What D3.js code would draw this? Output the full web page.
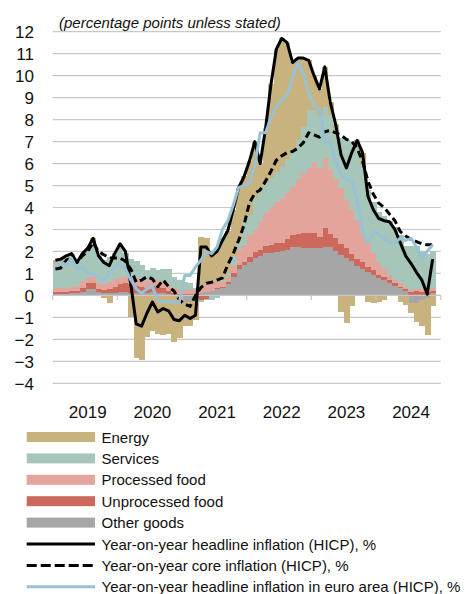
<!DOCTYPE html>
<html><head><meta charset="utf-8">
<script src="https://cdn.jsdelivr.net/npm/d3@7"></script>
<style>
body{margin:0;background:#fff}
svg{display:block;font-family:"Liberation Sans",Arial,Helvetica,sans-serif}
</style>
</head><body>
<svg id="chart" width="470" height="594"></svg>
<script>
// ---------- DATA (monthly, Jan 2019 – Nov 2024) ----------
const years = ["2019","2020","2021","2022","2023","2024"];
const yTicks = [-4,-3,-2,-1,0,1,2,3,4,5,6,7,8,9,10,11,12];

const otherGoods = [
  0.05,0.05,0.05,0.1,0.1,0.15,0.3,0.3,0.15,0.1,0.1,0.1,
  0.15,0.15,0.1,0.1,0.1,0.1,0.15,0.1,0.1,0.05,0.0,-0.1,
  -0.3,-0.3,-0.1,0.1,0.15,0.2,0.3,0.35,0.5,0.85,1.2,1.38,
  1.53,1.69,1.79,1.91,1.91,1.99,2.0,2.06,2.2,2.2,2.15,2.15,
  2.15,2.15,2.2,2.2,2.0,1.85,1.7,1.55,1.35,1.2,1.05,0.95,
  0.8,0.7,0.55,0.45,0.35,0.2,-0.35,-0.35,-0.2,-0.1,0.1];
const unprocessedFood = [
  0.1,0.1,0.1,0.1,0.1,0.2,0.25,0.25,0.15,0.15,0.2,0.3,
  0.35,0.4,0.4,0.35,0.3,0.25,0.3,0.3,0.25,0.15,0.1,0.05,
  0.05,0.05,0.0,-0.2,-0.15,0.0,0.05,0.05,0.1,0.15,0.18,0.15,
  0.2,0.3,0.26,0.34,0.38,0.38,0.4,0.49,0.55,0.6,0.7,0.7,
  0.7,0.5,0.85,0.6,0.6,0.5,0.45,0.35,0.3,0.3,0.25,0.2,
  0.15,0.15,0.15,0.1,0.05,0.1,0.15,0.2,0.15,0.15,0.1];
const processedFood = [
  0.2,0.2,0.2,0.2,0.25,0.3,0.3,0.3,0.25,0.25,0.3,0.35,
  0.3,0.3,0.3,0.3,0.3,0.3,0.3,0.3,0.25,0.25,0.25,0.2,
  0.2,0.2,0.25,0.35,0.35,0.3,0.25,0.2,0.2,0.35,0.7,0.75,
  1.02,0.99,1.3,1.48,1.75,1.89,2.05,2.09,2.25,2.5,2.7,2.95,
  3.2,3.15,3.2,2.9,2.7,2.55,2.2,2.0,1.8,1.35,1.1,0.8,
  0.55,0.35,0.25,0.15,0.15,0.1,0.1,0.1,0.15,0.15,0.15];
const services = [
  1.1,1.1,1.3,1.4,1.1,1.2,1.25,1.6,1.3,1.1,1.15,1.2,
  1.4,1.05,0.85,0.8,0.7,0.5,0.5,0.45,0.6,0.75,0.5,0.45,
  0.35,0.3,0.1,-0.1,-0.05,-0.2,-0.1,0.1,0.2,0.45,0.4,1.05,
  0.91,1.44,1.45,1.37,1.31,1.34,1.45,1.56,1.6,1.77,2.12,2.63,
  2.38,2.4,2.33,2.5,2.1,2.25,2.72,3.1,3.32,3.15,2.4,2.31,
  2.3,2.4,2.35,2.3,2.2,1.85,2.0,1.95,1.7,1.6,1.65];
const energy = [
  0.15,0.15,0.15,0.1,-0.05,0.05,0.0,0.15,-0.05,-0.1,-0.35,-0.05,
  0.1,0.05,-1.0,-2.85,-2.95,-1.9,-1.6,-1.75,-1.8,-1.75,-2.1,-1.85,
  -1.1,-1.1,-1.0,2.2,2.1,1.5,1.55,1.9,1.95,2.1,2.4,2.1,
  2.44,2.58,1.2,2.5,4.25,5.6,5.8,5.3,4.0,3.73,3.13,2.27,
  1.57,1.2,1.82,0.6,0.4,-0.75,-1.27,-0.5,0.28,0.5,-0.3,-0.36,
  -0.3,-0.2,0.1,0.1,-0.3,-0.44,-0.47,-0.85,-1.2,-1.7,-0.5];

const headline = [
  1.6,1.65,1.8,1.9,1.5,1.9,2.15,2.6,1.8,1.5,1.35,1.9,
  2.35,2.0,0.5,-1.3,-1.4,-0.8,-0.3,-0.75,-0.6,-0.7,-1.1,-1.15,
  -0.9,-1.05,-0.9,2.2,2.2,1.8,2.0,2.5,2.95,3.9,4.9,5.4,
  6.1,7.0,6.0,7.6,9.6,11.2,11.7,11.5,10.6,10.8,10.8,10.7,
  10.0,9.4,10.4,8.8,7.8,6.4,5.8,6.5,7.05,6.5,4.5,3.9,
  3.5,3.4,3.35,3.0,2.4,1.8,1.45,1.05,0.7,0.05,1.65];
const core = [
  1.2,1.25,1.6,1.7,1.5,1.8,2.0,2.4,2.0,1.85,1.7,1.7,
  1.7,1.55,1.2,0.6,0.7,0.85,0.75,0.4,0.7,0.4,0.2,-0.2,
  -0.4,-0.5,0.0,0.35,0.55,0.6,0.7,0.8,1.4,1.9,2.5,3.2,
  4.2,4.65,4.8,5.2,5.65,6.15,6.35,6.5,6.55,6.7,6.95,7.4,
  7.3,7.2,7.45,7.5,7.4,7.3,7.1,7.0,6.7,6.1,5.2,4.6,
  4.2,4.0,3.7,3.4,2.9,2.7,2.55,2.45,2.35,2.3,2.3];
const euroArea = [
  1.4,1.5,1.4,1.7,1.2,1.3,1.0,1.0,0.8,0.7,1.0,1.3,
  1.4,1.2,0.7,0.3,0.1,0.3,0.4,-0.2,-0.3,-0.3,-0.3,-0.3,
  0.9,0.9,1.3,1.6,2.0,1.9,2.2,3.0,3.4,4.1,4.9,5.0,
  5.1,5.9,7.4,7.4,8.1,8.6,8.9,9.1,9.9,10.6,10.1,9.2,
  8.6,8.5,6.9,7.0,6.1,5.5,5.3,5.2,4.3,2.9,2.4,2.9,
  2.8,2.6,2.4,2.4,2.6,2.5,2.6,2.2,1.7,2.0,2.3];

const barSeries = [
  {key:"otherGoods", label:"Other goods", color:"#a6a6a6", values: otherGoods},
  {key:"unprocessedFood", label:"Unprocessed food", color:"#cc685c", values: unprocessedFood},
  {key:"processedFood", label:"Processed food", color:"#e3a49c", values: processedFood},
  {key:"services", label:"Services", color:"#a7c6ba", values: services},
  {key:"energy", label:"Energy", color:"#c8b27d", values: energy}
];
const lineSeries = [
  {label:"Year-on-year headline inflation (HICP), %", color:"#000", values: headline, dash:null},
  {label:"Year-on-year core inflation (HICP), %", color:"#000", values: core, dash:"7,4"},
  {label:"Year-on-year headline inflation in euro area (HICP), %", color:"#99c1d4", values: euroArea, dash:null}
];

// ---------- LAYOUT ----------
const svg = d3.select("#chart");
const plotLeft = 52.7, plotRight = 440.7, plotTop = 31.7, plotBottom = 383.3;
const months = years.flatMap(yr => d3.range(1,13).map(m => yr + "-" + m));
const x = d3.scaleBand().domain(months).range([plotLeft, plotRight]).padding(0);
const y = d3.scaleLinear().domain([-4, 12]).range([plotBottom, plotTop]);
const bw = x.bandwidth();

// gridlines
svg.append("g").selectAll("line").data(yTicks).join("line")
  .attr("x1", plotLeft).attr("x2", plotRight)
  .attr("y1", d => y(d)).attr("y2", d => y(d))
  .attr("stroke", "#c8c8c8").attr("stroke-width", 1.2);

// stacked bars
const n = headline.length;
const table = d3.range(n).map(i => {
  const row = {month: months[i]};
  barSeries.forEach(s => row[s.key] = s.values[i]);
  return row;
});
const stack = d3.stack().keys(barSeries.map(s => s.key)).offset(d3.stackOffsetDiverging);
const stacked = stack(table);
svg.append("g").attr("shape-rendering", "crispEdges")
  .selectAll("g").data(stacked).join("g")
  .attr("fill", (d, i) => barSeries[i].color)
  .selectAll("rect").data(d => d).join("rect")
  .attr("x", d => x(d.data.month))
  .attr("width", bw + 0.6)
  .attr("y", d => y(Math.max(d[0], d[1])))
  .attr("height", d => Math.abs(y(d[0]) - y(d[1])));

// zero axis with year-boundary ticks
svg.append("line").attr("x1", plotLeft).attr("x2", plotRight)
  .attr("y1", y(0)).attr("y2", y(0)).attr("stroke", "#c8c8c8").attr("stroke-width", 1.2);
const bounds = years.map(yr => x(yr + "-1")).concat([plotRight]);
svg.append("g").selectAll("line").data(bounds).join("line")
  .attr("x1", d => d).attr("x2", d => d)
  .attr("y1", y(0)).attr("y2", y(0) + 4.5)
  .attr("stroke", "#c8c8c8").attr("stroke-width", 1.2);

// lines
const lineGen = d3.line().x((d, i) => x(months[i]) + bw / 2).y(d => y(d));
[lineSeries[1], lineSeries[0], lineSeries[2]].forEach(s => {
  svg.append("path").datum(s.values)
    .attr("d", lineGen).attr("fill", "none")
    .attr("stroke", s.color).attr("stroke-width", 3)
    .attr("stroke-linejoin", "round")
    .attr("stroke-dasharray", s.dash);
});

// y axis labels
const yAxis = svg.append("g").attr("transform", "translate(34,0)")
  .call(d3.axisLeft(y).tickValues(yTicks).tickSize(0).tickPadding(0).tickFormat(d3.format("d")));
yAxis.select(".domain").remove();
yAxis.selectAll("text").attr("font-size", 17).attr("fill", "#111")
  .attr("font-family", "Liberation Sans, Arial, sans-serif").attr("dy", "0.36em");

// x axis year labels (centered on July)
const xAxis = svg.append("g").attr("transform", "translate(0,404)")
  .call(d3.axisBottom(x).tickValues(years.map(yr => yr + "-7")).tickSize(0).tickPadding(0)
    .tickFormat(d => d.slice(0, 4)));
xAxis.select(".domain").remove();
xAxis.selectAll("text").attr("font-size", 17).attr("fill", "#111")
  .attr("font-family", "Liberation Sans, Arial, sans-serif").attr("dy", "0.8em");

// subtitle
svg.append("text").attr("x", 59).attr("y", 27.5)
  .attr("font-size", 15).attr("font-style", "italic").attr("fill", "#111")
  .text("(percentage points unless stated)");

// legend
const legendItems = [
  ...barSeries.slice().reverse().map(s => ({type:"rect", label:s.label, color:s.color})),
  ...lineSeries.map(s => ({type:"line", label:s.label, color:s.color, dash:s.dash}))
];
const lg = svg.append("g");
legendItems.forEach((it, i) => {
  const cy = 437 + i * 21.4;
  if (it.type === "rect") {
    lg.append("rect").attr("x", 26.7).attr("y", cy - 5).attr("width", 68.3).attr("height", 10).attr("fill", it.color);
  } else {
    lg.append("line").attr("x1", 26.7).attr("x2", 95).attr("y1", cy).attr("y2", cy)
      .attr("stroke", it.color).attr("stroke-width", 3).attr("stroke-dasharray", it.dash ? "10,4" : null);
  }
  lg.append("text").attr("x", 101.5).attr("y", cy + 5.5).attr("font-size", 15).attr("fill", "#111").text(it.label);
});
</script>
</body></html>
